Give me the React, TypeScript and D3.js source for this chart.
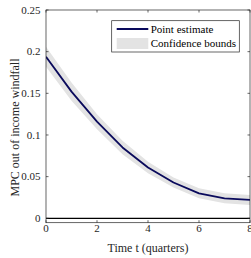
import React, { useEffect, useRef } from 'react';
import * as d3 from 'd3';

// quarters after the windfall
const quarters = [0, 1, 2, 3, 4, 5, 6, 7, 8];
const pointEstimate = [0.194, 0.152, 0.116, 0.085, 0.061, 0.043, 0.030, 0.024, 0.022];
const upperBound = [0.206, 0.163, 0.125, 0.093, 0.068, 0.049, 0.036, 0.030, 0.028];
const lowerBound = [0.182, 0.141, 0.107, 0.077, 0.054, 0.037, 0.024, 0.018, 0.016];

const xTicks = [0, 2, 4, 6, 8];
const yTicks = [0, 0.05, 0.1, 0.15, 0.2, 0.25];
const legendLabels = ['Point estimate', 'Confidence bounds'];

const App: React.FC = () => {
  const svgRef = useRef<SVGSVGElement>(null);

  useEffect(() => {
    if (!svgRef.current) return;
    const svg = d3.select(svgRef.current);
    svg.selectAll('*').remove();

    const left = 46, right = 250, top = 10, bottom = 222.7;
    const font = "'Liberation Serif', 'DejaVu Serif', serif";

    const x = d3.scaleLinear().domain([0, 8]).range([left, right]);
    const y = d3.scaleLinear().domain([0, 0.25]).range([218.3, top]);

    svg.append('rect').attr('width', 251).attr('height', 258).attr('fill', '#ffffff');

    svg.append('defs').append('clipPath').attr('id', 'plot-clip')
      .append('rect').attr('x', left).attr('y', top)
      .attr('width', right - left).attr('height', bottom - top);

    const plot = svg.append('g').attr('clip-path', 'url(#plot-clip)');

    // Confidence band
    const area = d3.area<number>()
      .x((_, i) => x(quarters[i]))
      .y0((_, i) => y(lowerBound[i]))
      .y1((_, i) => y(upperBound[i]));
    plot.append('path')
      .datum(quarters)
      .attr('d', area)
      .attr('fill', '#e3e3e3');

    // zero line
    plot.append('line')
      .attr('x1', left).attr('x2', right)
      .attr('y1', y(0)).attr('y2', y(0))
      .attr('stroke', '#000').attr('stroke-width', 1.2);

    // point estimate
    const line = d3.line<number>()
      .x((_, i) => x(quarters[i]))
      .y(d => y(d));
    plot.append('path')
      .datum(pointEstimate)
      .attr('d', line)
      .attr('fill', 'none')
      .attr('stroke', '#0a0a5c')
      .attr('stroke-width', 1.8)
      .attr('stroke-linejoin', 'round');

    // Box + ticks (inward, mirrored)
    const axisColor = '#262626';
    svg.append('rect')
      .attr('x', left).attr('y', top)
      .attr('width', right - left).attr('height', bottom - top)
      .attr('fill', 'none').attr('stroke', axisColor).attr('stroke-width', 0.7);

    const tickLen = 2.5;
    xTicks.forEach(t => {
      svg.append('line').attr('x1', x(t)).attr('x2', x(t))
        .attr('y1', bottom).attr('y2', bottom - tickLen)
        .attr('stroke', axisColor).attr('stroke-width', 0.7);
      svg.append('line').attr('x1', x(t)).attr('x2', x(t))
        .attr('y1', top).attr('y2', top + tickLen)
        .attr('stroke', axisColor).attr('stroke-width', 0.7);
      svg.append('text')
        .attr('x', x(t)).attr('y', 232)
        .attr('text-anchor', 'middle')
        .style('font-family', font).style('font-size', '11px').attr('fill', '#262626')
        .text(t);
    });

    yTicks.forEach(v => {
      svg.append('line').attr('x1', left).attr('x2', left + tickLen)
        .attr('y1', y(v)).attr('y2', y(v))
        .attr('stroke', axisColor).attr('stroke-width', 0.7);
      svg.append('line').attr('x1', right).attr('x2', right - tickLen)
        .attr('y1', y(v)).attr('y2', y(v))
        .attr('stroke', axisColor).attr('stroke-width', 0.7);
      svg.append('text')
        .attr('x', 40.5).attr('y', y(v) + 3.8)
        .attr('text-anchor', 'end')
        .style('font-family', font).style('font-size', '11px').attr('fill', '#262626')
        .text(String(v));
    });

    // axis titles
    svg.append('text')
      .attr('x', (left + right) / 2).attr('y', 252)
      .attr('text-anchor', 'middle')
      .style('font-family', font).style('font-size', '12px').attr('fill', '#262626')
      .text('Time t (quarters)');
    svg.append('text')
      .attr('transform', 'translate(19, 127.5) rotate(-90)')
      .attr('text-anchor', 'middle')
      .style('font-family', font).style('font-size', '12px').attr('fill', '#262626')
      .text('MPC out of income windfall');

    // Legend
    const lg = svg.append('g');
    lg.append('rect')
      .attr('x', 111.7).attr('y', 20.7).attr('width', 127.6).attr('height', 31.3)
      .attr('fill', '#ffffff').attr('stroke', axisColor).attr('stroke-width', 0.7);
    lg.append('line')
      .attr('x1', 116.7).attr('x2', 148.3).attr('y1', 29).attr('y2', 29)
      .attr('stroke', '#0a0a5c').attr('stroke-width', 1.8);
    lg.append('rect')
      .attr('x', 116.7).attr('y', 38).attr('width', 31.6).attr('height', 11)
      .attr('fill', '#e3e3e3');
    legendLabels.forEach((label, i) => {
      lg.append('text')
        .attr('x', 150.7).attr('y', 32.8 + i * 14)
        .style('font-family', font).style('font-size', '11px').attr('fill', '#000')
        .text(label);
    });
  }, []);

  return (
    <svg
      ref={svgRef}
      width={251}
      height={258}
      style={{ position: 'absolute', left: 0, top: 0 }}
    />
  );
};

export default App;
